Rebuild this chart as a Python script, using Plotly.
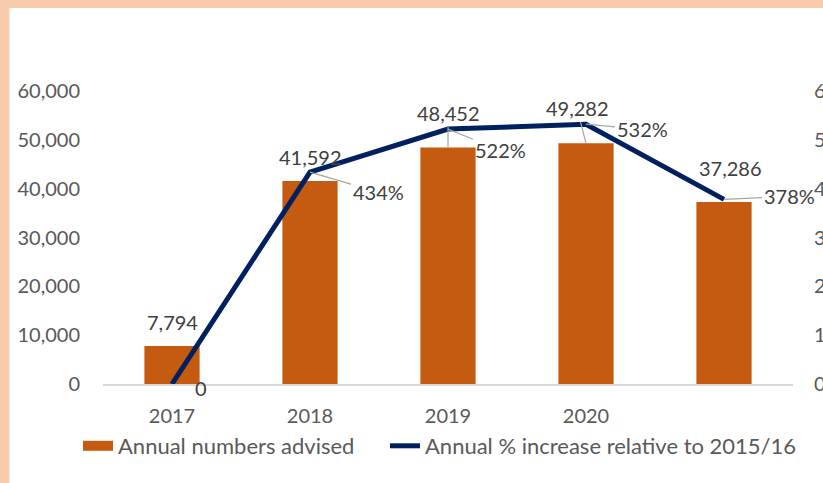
import plotly.graph_objects as go

# Data
YEARS = ["2017", "2018", "2019", "2020", "2021"]
TICK_LABELS = ["2017", "2018", "2019", "2020", ""]
ADVISED = [7794, 41592, 48452, 49282, 37286]
PCT_INCREASE = [0, 434, 522, 532, 378]

BAR_COLOR = "#C55A11"
LINE_COLOR = "#002060"
AXIS_TEXT = "#595959"
LABEL_TEXT = "#404040"
LEADER = "#A6A6A6"
FONT = "Lato"

W, H = 823, 483
M = dict(l=103, r=30, t=91, b=99)
PW, PH = W - M["l"] - M["r"], H - M["t"] - M["b"]


def px_x(p):
    # pixel x -> paper x
    return (p - M["l"]) / PW


def px_y(p):
    # pixel y -> paper y
    return (H - M["b"] - p) / PH


fig = go.Figure()

fig.add_trace(go.Bar(
    x=YEARS, y=ADVISED,
    marker=dict(color=BAR_COLOR, line=dict(width=0)),
    width=0.4,
    name="Annual numbers advised",
    legendgroup="bars",
    showlegend=False,
    hovertemplate="%{x}: %{y:,}<extra></extra>",
))

# legend stand-in so the bar swatch is a wide block like the original
fig.add_trace(go.Scatter(
    x=YEARS[:1], y=[None], mode="lines",
    line=dict(color=BAR_COLOR, width=13),
    name="Annual numbers advised",
    legendgroup="bars",
    hoverinfo="skip",
))

fig.add_trace(go.Scatter(
    x=YEARS, y=PCT_INCREASE, yaxis="y2",
    mode="lines",
    line=dict(color=LINE_COLOR, width=5),
    name="Annual % increase relative to 2015/16",
    legend="legend2",
    hovertemplate="%{x}: %{y}%<extra></extra>",
))

annotations = []

# bar value labels (offsets in pixels, some with leader lines)
bar_offsets = [(0, -24, False), (0, -24, False), (0, -34, True), (-9, -35, True), (6, -34, False)]
for i, (v, (dx, dy, arrow)) in enumerate(zip(ADVISED, bar_offsets)):
    annotations.append(dict(
        x=i, y=v, xref="x", yref="y",
        text=f"{v:,}",
        showarrow=True, arrowhead=0, arrowwidth=1.2,
        arrowcolor=LEADER if arrow else "rgba(0,0,0,0)",
        ax=dx, ay=dy,
        font=dict(family=FONT, size=20, color=LABEL_TEXT),
    ))

# line value labels
line_offsets = [(29, 4, False), (68, 20, True), (52, 21, True), (56, 5, True), (65, -3, True)]
for i, (p, (dx, dy, arrow)) in enumerate(zip(PCT_INCREASE, line_offsets)):
    annotations.append(dict(
        x=i, y=p, xref="x", yref="y2",
        text="0" if p == 0 else f"{p}%",
        showarrow=True, arrowhead=0, arrowwidth=1.2,
        arrowcolor=LEADER if arrow else "rgba(0,0,0,0)",
        ax=dx, ay=dy,
        font=dict(family=FONT, size=20, color=LABEL_TEXT),
    ))

# peach frame on the left and top edges
shapes = [
    dict(type="rect", xref="paper", yref="paper",
         x0=px_x(-10), x1=px_x(9.5), y0=px_y(H + 10), y1=px_y(-10),
         fillcolor="#F8CBAD", line=dict(width=0), layer="above"),
    dict(type="rect", xref="paper", yref="paper",
         x0=px_x(-10), x1=px_x(W + 10), y0=px_y(8), y1=px_y(-10),
         fillcolor="#F8CBAD", line=dict(width=0), layer="above"),
]

legend_style = dict(
    orientation="h", xanchor="left", y=px_y(446), yanchor="middle",
    font=dict(family=FONT, size=22, color=AXIS_TEXT),
    itemwidth=30, bgcolor="rgba(0,0,0,0)",
)

fig.update_layout(
    width=W, height=H,
    margin=M,
    plot_bgcolor="white",
    paper_bgcolor="white",
    font=dict(family=FONT, size=20, color=AXIS_TEXT),
    xaxis=dict(
        type="category", range=[-0.5, 4.5], autorange=False,
        tickmode="array", tickvals=YEARS, ticktext=TICK_LABELS,
        showline=True, linecolor="#D9D9D9", linewidth=1.5,
        showgrid=False, zeroline=False, ticks="",
        ticklabelstandoff=13, automargin=False,
        tickfont=dict(family=FONT, size=20, color=AXIS_TEXT),
    ),
    yaxis=dict(
        range=[0, 60000], tickvals=[0, 10000, 20000, 30000, 40000, 50000, 60000],
        tickformat=",", showgrid=False, zeroline=False, showline=False, ticks="",
        ticklabelstandoff=22, automargin=False,
        tickfont=dict(family=FONT, size=20, color=AXIS_TEXT),
    ),
    yaxis2=dict(
        overlaying="y", side="right",
        range=[0, 600], tickvals=[0, 100, 200, 300, 400, 500, 600], ticksuffix="%",
        showgrid=False, zeroline=False, showline=False, ticks="",
        ticklabelstandoff=20, automargin=False,
        tickfont=dict(family=FONT, size=20, color=AXIS_TEXT),
    ),
    legend=dict(x=px_x(78), **legend_style),
    legend2=dict(x=px_x(385), **legend_style),
    annotations=annotations,
    shapes=shapes,
    showlegend=True,
)

fig.write_html(
    "out.html",
    config={"displayModeBar": False},
    post_script="document.body.style.margin='0';document.body.style.overflow='hidden';",
)
